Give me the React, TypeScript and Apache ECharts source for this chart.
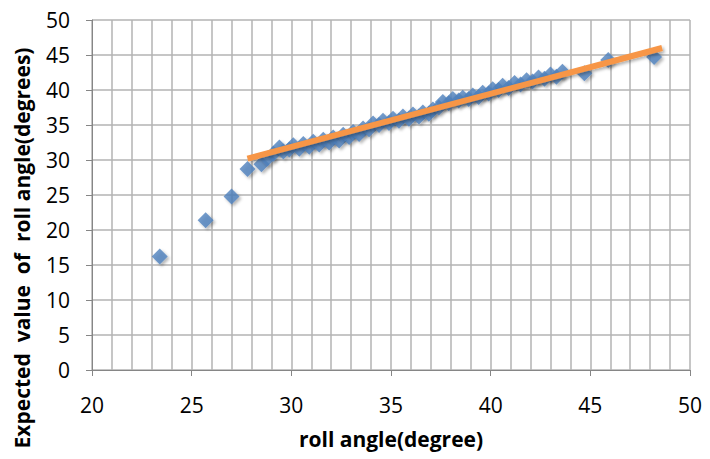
import React, { useEffect, useRef } from "react";
import * as echarts from "echarts";

const xTicks = [20, 25, 30, 35, 40, 45, 50];
const yTicks = [0, 5, 10, 15, 20, 25, 30, 35, 40, 45, 50];

const rollX = [
  23.4, 25.7, 27.0, 27.8, 28.5,
  28.8, 29.1, 29.4, 29.6, 29.9, 30.1, 30.4, 30.6, 30.9, 31.1, 31.4, 31.6, 31.9,
  32.1, 32.4, 32.6, 32.9, 33.1, 33.4, 33.6, 33.9, 34.1, 34.4, 34.6, 34.9, 35.1,
  35.4, 35.6, 35.9, 36.1, 36.4, 36.6, 36.9, 37.1, 37.4, 37.6, 37.9, 38.1, 38.4,
  38.6, 38.9, 39.1, 39.4, 39.6, 39.9, 40.1, 40.4, 40.6, 40.9, 41.2, 41.5, 41.8,
  42.1, 42.4, 42.7, 43.0, 43.3, 43.6,
  44.7, 45.9, 48.2,
];
const expectedY = [
  16.2, 21.4, 24.8, 28.7, 29.4,
  30.2, 30.9, 31.8, 31.2, 31.5, 32.1, 31.6, 32.3, 31.9, 32.6, 32.2, 32.9, 32.5,
  33.2, 32.8, 33.6, 33.3, 34.0, 33.7, 34.5, 34.4, 35.2, 35.0, 35.6, 35.3, 35.9,
  35.6, 36.2, 35.9, 36.5, 36.2, 36.8, 36.6, 37.2, 37.5, 38.3, 38.1, 38.7, 38.5,
  38.9, 38.7, 39.2, 39.0, 39.6, 39.5, 40.1, 40.0, 40.6, 40.3, 41.0, 40.8, 41.4,
  41.2, 41.8, 41.6, 42.2, 41.9, 42.6,
  42.4, 44.3, 44.7,
];

const trendX = [27.8, 48.6];
const trendY = [30.2, 46.0];

const FONT = "'Open Sans', 'Noto Sans', sans-serif";

export default function App() {
  const ref = useRef<HTMLDivElement>(null);
  useEffect(() => {
    document.body.style.margin = "0";
    if (!ref.current) return;
    const chart = echarts.init(ref.current, null, { renderer: "svg" });
    chart.setOption({
      animation: false,
      backgroundColor: "#ffffff",
      grid: { left: 92, right: 20, top: 20, bottom: 89, containLabel: false },
      xAxis: {
        type: "value",
        min: xTicks[0],
        max: xTicks[xTicks.length - 1],
        interval: 5,
        name: "roll angle(degree)",
        nameLocation: "middle",
        nameGap: 58,
        nameTextStyle: { fontFamily: FONT, fontWeight: "bold", fontSize: 21, color: "#000" },
        axisLine: { show: true, lineStyle: { color: "#868686", width: 1 } },
        axisTick: { show: true, length: 6, lineStyle: { color: "#868686" } },
        axisLabel: { fontFamily: FONT, fontSize: 21, color: "#000", margin: 24 },
        splitLine: { show: true, lineStyle: { color: "#b3b3b3", width: 1.5 } },
        minorTick: { show: false, splitNumber: 5 },
        minorSplitLine: { show: true, lineStyle: { color: "#b3b3b3", width: 1.5 } },
      },
      yAxis: {
        type: "value",
        min: yTicks[0],
        max: yTicks[yTicks.length - 1],
        interval: 5,
        axisLine: { show: true, lineStyle: { color: "#868686", width: 1 } },
        axisTick: { show: true, length: 6, lineStyle: { color: "#868686" } },
        axisLabel: { fontFamily: FONT, fontSize: 21, color: "#000", margin: 22 },
        splitLine: { show: true, lineStyle: { color: "#b3b3b3", width: 1.5 } },
      },
      graphic: [
        {
          type: "text",
          x: 22,
          y: 248,
          rotation: Math.PI / 2,
          style: {
            text: "Expected  value  of  roll angle(degrees)",
            fontFamily: FONT,
            fontWeight: "bold",
            fontSize: 21,
            fill: "#000",
            align: "center",
            verticalAlign: "middle",
          },
        },
      ],
      series: [
        {
          type: "scatter",
          symbol: "diamond",
          symbolSize: 16,
          data: rollX.map((x, i) => [x, expectedY[i]]),
          itemStyle: {
            color: "#4f81bd",
            shadowBlur: 3,
            shadowColor: "rgba(0,0,0,0.35)",
            shadowOffsetX: 2,
            shadowOffsetY: 2,
          },
          z: 2,
        },
        {
          type: "line",
          data: trendX.map((x, i) => [x, trendY[i]]),
          symbol: "none",
          lineStyle: {
            color: "#f79646",
            width: 6,
            shadowBlur: 3,
            shadowColor: "rgba(0,0,0,0.3)",
            shadowOffsetX: 2,
            shadowOffsetY: 2,
          },
          z: 3,
        },
      ],
    });
    return () => chart.dispose();
  }, []);
  return <div ref={ref} style={{ width: 710, height: 459 }} />;
}
